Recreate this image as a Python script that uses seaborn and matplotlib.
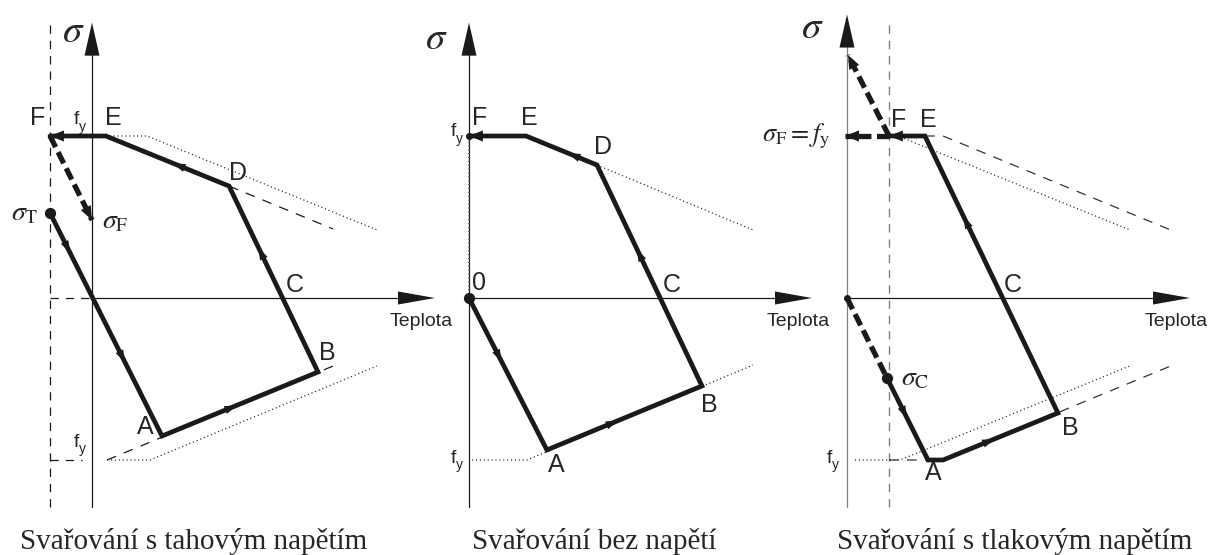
import numpy as np
import pandas as pd
import matplotlib
matplotlib.use("Agg")
import matplotlib.pyplot as plt
from matplotlib.patches import FancyArrowPatch
import seaborn as sns

sns.set_theme(style="white")
plt.rcParams["font.family"] = ["Liberation Sans", "DejaVu Sans"]
plt.rcParams["mathtext.fontset"] = "stix"
plt.rcParams["lines.scale_dashes"] = False

# ---------------------------------------------------------------
# Stress (in units of f_y) versus temperature (drawing units)
# ---------------------------------------------------------------
titles = ["Svařování s tahovým napětím", "Svařování bez napětí", "Svařování s tlakovým napětím"]
axis_name = "Teplota"

# Panel 1 – welding with tensile pre-stress: σT -> A -> B -> (C) -> D -> E -> F
p1_T = [-0.259, 0.432, 1.395, 0.846, 0.086, -0.259]
p1_S = [0.525, -0.852, -0.457, 0.691, 1.0, 1.0]
p1_unload_T = [-0.259, 0.0]          # F -> σF
p1_unload_S = [1.0, 0.481]
p1_fy_dot_T = [0.086, 0.34, 1.759]   # yield strength f_y(T), tension side
p1_fy_dot_S = [1.0, 1.0, 0.42]
p1_fy_dotl_T = [0.093, 0.358, 1.759]  # compression side
p1_fy_dotl_S = [-1.0, -1.0, -0.42]
p1_fy_dash_T = [0.846, 1.488]
p1_fy_dash_S = [0.691, 0.426]
p1_fy_dashl_T = [0.093, 1.488]
p1_fy_dashl_S = [-1.0, -0.42]

# Panel 2 – welding without pre-stress: 0 -> A -> B -> (C) -> D -> E -> F
p2_T = [0.0, 0.481, 1.438, 0.79, 0.352, 0.0]
p2_S = [0.0, -0.938, -0.543, 0.821, 1.0, 1.0]
p2_fy_dot_T = [0.79, 1.753]
p2_fy_dot_S = [0.821, 0.42]
p2_fy_dotl_T = [0.019, 0.358, 1.753]
p2_fy_dotl_S = [-1.0, -1.0, -0.414]

# Panel 3 – welding with compressive pre-stress: σC -> A -> B -> (C) -> E -> F
p3_T = [0.247, 0.5, 0.593, 1.302, 0.481, 0.259]
p3_S = [-0.494, -1.0, -1.0, -0.71, 1.0, 1.0]
p3_preload_T = [0.0, 0.247]
p3_preload_S = [0.0, -0.494]
p3_unload_up_T = [0.259, 0.006]
p3_unload_up_S = [1.0, 1.5]
p3_unload_left_T = [0.259, -0.012]
p3_unload_left_S = [1.0, 1.0]
p3_fy_dot_T = [0.259, 0.315, 1.747]
p3_fy_dot_S = [1.0, 1.0, 0.42]
p3_fy_dash_T = [0.259, 0.593, 2.012]
p3_fy_dash_S = [1.0, 1.0, 0.414]
p3_fy_dotl_T = [0.049, 0.327, 1.759]
p3_fy_dotl_S = [-1.0, -1.0, -0.414]
p3_fy_dashl_T = [0.259, 0.593, 2.012]
p3_fy_dashl_S = [-1.0, -1.0, -0.414]

# ---------------------------------------------------------------
# Layout
# ---------------------------------------------------------------
W, H, DPI = 1210, 555, 100
SCALE = 162.0                 # pixels per drawing unit
origins = [(92, 298), (469, 298), (847, 298)]
T_TIP, S_BOTTOM = 2.117, -1.29

THICK = 3.4
DOT = (0, (0.8, 2.0))
DASH = (0, (7, 6))
BOLD_DASH = (0, (9, 4))

fig = plt.figure(figsize=(W / DPI, H / DPI), dpi=DPI)
fig.patch.set_facecolor("white")


def make_axes(ox, oy):
    ax = fig.add_axes([0, 0, 1, 1])
    ax.set_xlim(-ox / SCALE, (W - ox) / SCALE)
    ax.set_ylim((oy - H) / SCALE, oy / SCALE)
    ax.set_axis_off()
    ax.patch.set_alpha(0)
    return ax


def path(ax, T, S, **kw):
    df = pd.DataFrame({"T": T, "sigma": S})
    sns.lineplot(data=df, x="T", y="sigma", sort=False, estimator=None, ax=ax,
                 legend=False, **kw)


def head(ax, p, q, frac=1.0, hl=9, hw=3.0, color="k"):
    p, q = np.asarray(p, float), np.asarray(q, float)
    d = (q - p) / np.hypot(*(q - p))
    m = p + frac * (q - p)
    ax.add_patch(FancyArrowPatch(m - 1e-3 * d, m, mutation_scale=1,
                                 arrowstyle=f"-|>,head_length={hl},head_width={hw}",
                                 color=color, lw=0, shrinkA=0, shrinkB=0, zorder=6))


END = dict(hl=10, hw=4.0)


def axes_cross(ax, ycol="k", ytip=1.70):
    ax.plot([0, 0], [S_BOTTOM, ytip - 0.1], color=ycol, lw=0.9, zorder=2)
    ax.plot([0, T_TIP - 0.1], [0, 0], color="k", lw=0.9, zorder=2)
    head(ax, (0, 0), (0, ytip), hl=23.8, hw=5.4)
    head(ax, (0, 0), (T_TIP, 0), hl=26.6, hw=4.7)
    ax.text(2.031, -0.148, axis_name, fontsize=14, ha="center", va="center")


def fy(ax, x, y):
    ax.text(x, y, "f", fontsize=14, ha="center", va="center")
    ax.annotate("y", (x, y), xytext=(4.3, -5.0), textcoords="offset points",
                fontsize=10, ha="center", va="center")


def lab(ax, x, y, s, size=18, **kw):
    ax.text(x, y, s, fontsize=size, ha="center", va="center", **kw)


serif = ["Liberation Serif", "DejaVu Serif"]

# ---------------- Panel 1 ----------------
ax1 = make_axes(*origins[0])
ax1.plot([-0.259, -0.259], [S_BOTTOM, 1.71], color="k", lw=0.9, ls=(0, (6, 5)))
ax1.plot([-0.259, 0.0], [0, 0], color="k", lw=0.9, ls=(0, (6, 5)))
ax1.plot([-0.259, -0.06], [-1, -1], color="k", lw=0.9, ls=(0, (6, 5)))
axes_cross(ax1)
path(ax1, p1_fy_dot_T, p1_fy_dot_S, color="#222222", lw=0.9, linestyle=DOT)
path(ax1, p1_fy_dotl_T, p1_fy_dotl_S, color="#222222", lw=0.9, linestyle=DOT)
path(ax1, p1_fy_dash_T, p1_fy_dash_S, color="k", lw=0.9, linestyle=DASH)
path(ax1, p1_fy_dashl_T, p1_fy_dashl_S, color="k", lw=0.9, linestyle=DASH)
path(ax1, p1_T, p1_S, color="k", lw=THICK, solid_joinstyle="miter", zorder=5)
path(ax1, p1_unload_T, p1_unload_S, color="k", lw=THICK + 0.4, linestyle=BOLD_DASH, zorder=5)
ax1.scatter([p1_T[0]], [p1_S[0]], s=50, color="k", zorder=6)
P = list(zip(p1_T, p1_S))
head(ax1, P[0], P[1], 0.18)
head(ax1, P[0], P[1], 0.67)
head(ax1, P[1], P[2], 0.48)
head(ax1, P[2], P[3], 0.67)
head(ax1, P[3], P[4], 0.455)
head(ax1, P[4], P[5], 1.0, **END)
head(ax1, (p1_unload_T[0], p1_unload_S[0]), (p1_unload_T[1], p1_unload_S[1]), 1.0, **END)
lab(ax1, -0.117, 1.642, r"$\sigma$", size=28)
lab(ax1, -0.333, 1.111, "F")
lab(ax1, 0.130, 1.111, "E")
lab(ax1, 0.901, 0.772, "D")
lab(ax1, 1.253, 0.080, "C")
lab(ax1, 1.451, -0.340, "B")
lab(ax1, 0.327, -0.796, "A")
lab(ax1, -0.414, 0.525, r"$\sigma_{\mathrm{T}}$", size=20)
lab(ax1, 0.142, 0.470, r"$\sigma_{\mathrm{F}}$", size=20)
fy(ax1, -0.093, 1.099)
fy(ax1, -0.093, -0.889)
ax1.text(0.63, -1.506, titles[0], fontsize=21, family=serif, ha="center", va="center")

# ---------------- Panel 2 ----------------
ax2 = make_axes(*origins[1])
axes_cross(ax2)
ax2.plot([0, 0], [0, 1], color="#555555", lw=1.4, ls=DOT)
path(ax2, p2_fy_dot_T, p2_fy_dot_S, color="#222222", lw=0.9, linestyle=DOT)
path(ax2, p2_fy_dotl_T, p2_fy_dotl_S, color="#222222", lw=0.9, linestyle=DOT)
path(ax2, p2_T, p2_S, color="k", lw=THICK, solid_joinstyle="miter", zorder=5)
ax2.scatter([p2_T[0]], [p2_S[0]], s=50, color="k", zorder=6)
ax2.scatter([p2_T[-1]], [p2_S[-1]], s=16, color="k", zorder=6)
P = list(zip(p2_T, p2_S))
head(ax2, P[0], P[1], 0.42)
head(ax2, P[1], P[2], 0.46)
head(ax2, P[2], P[3], 0.62)
head(ax2, P[3], P[4], 0.41)
head(ax2, P[4], P[5], 1.0, **END)
lab(ax2, -0.204, 1.599, r"$\sigma$", size=28)
lab(ax2, 0.068, 1.111, "F")
lab(ax2, 0.370, 1.111, "E")
lab(ax2, 0.827, 0.932, "D")
lab(ax2, 1.253, 0.080, "C")
lab(ax2, 0.062, 0.093, "0")
lab(ax2, 1.481, -0.660, "B")
lab(ax2, 0.537, -1.031, "A")
fy(ax2, -0.099, 1.025)
fy(ax2, -0.099, -0.988)
ax2.text(0.772, -1.506, titles[1], fontsize=21, family=serif, ha="center", va="center")

# ---------------- Panel 3 ----------------
ax3 = make_axes(*origins[2])
ax3.plot([0.259, 0.259], [S_BOTTOM, 1.70], color="#808080", lw=1.0, ls=(0, (6, 5)))
axes_cross(ax3, ycol="#808080", ytip=1.75)
path(ax3, p3_fy_dot_T, p3_fy_dot_S, color="#222222", lw=0.9, linestyle=DOT)
path(ax3, p3_fy_dotl_T, p3_fy_dotl_S, color="#222222", lw=0.9, linestyle=DOT)
path(ax3, p3_fy_dash_T, p3_fy_dash_S, color="#333333", lw=0.9, linestyle=DASH)
path(ax3, p3_fy_dashl_T, p3_fy_dashl_S, color="#333333", lw=0.9, linestyle=DASH)
path(ax3, p3_T, p3_S, color="k", lw=THICK, solid_joinstyle="miter", zorder=5)
path(ax3, p3_preload_T, p3_preload_S, color="k", lw=THICK + 0.4, linestyle=BOLD_DASH, zorder=5)
path(ax3, p3_unload_up_T, p3_unload_up_S, color="k", lw=THICK + 0.4, linestyle=BOLD_DASH, zorder=5)
path(ax3, p3_unload_left_T, p3_unload_left_S, color="k", lw=THICK + 0.4, linestyle=BOLD_DASH, zorder=5)
ax3.scatter([p3_T[0]], [p3_S[0]], s=50, color="k", zorder=6)
ax3.scatter([0], [0], s=16, color="k", zorder=6)
P = list(zip(p3_T, p3_S))
head(ax3, P[0], P[1], 0.49)
head(ax3, P[2], P[3], 0.45)
head(ax3, P[3], P[4], 0.71)
head(ax3, P[4], P[5], 1.0, **END)
head(ax3, (p3_unload_up_T[0], p3_unload_up_S[0]), (p3_unload_up_T[1], p3_unload_up_S[1]), 1.0, **END)
head(ax3, (p3_unload_left_T[0], p3_unload_left_S[0]), (p3_unload_left_T[1], p3_unload_left_S[1]), 1.0, **END)
lab(ax3, -0.216, 1.667, r"$\sigma$", size=28)
ax3.text(-0.105, 1.0, r"$\sigma_{\mathrm{F}} = f_{\mathrm{y}}$", fontsize=19, ha="right", va="center")
lab(ax3, 0.321, 1.099, "F")
lab(ax3, 0.500, 1.099, "E")
lab(ax3, 1.025, 0.080, "C")
lab(ax3, 1.377, -0.802, "B")
lab(ax3, 0.531, -1.080, "A")
lab(ax3, 0.420, -0.494, r"$\sigma_{\mathrm{C}}$", size=20)
fy(ax3, -0.111, -0.988)
ax3.text(1.037, -1.506, titles[2], fontsize=21, family=serif, ha="center", va="center")

fig.savefig("out.png", dpi=DPI, facecolor="white")
